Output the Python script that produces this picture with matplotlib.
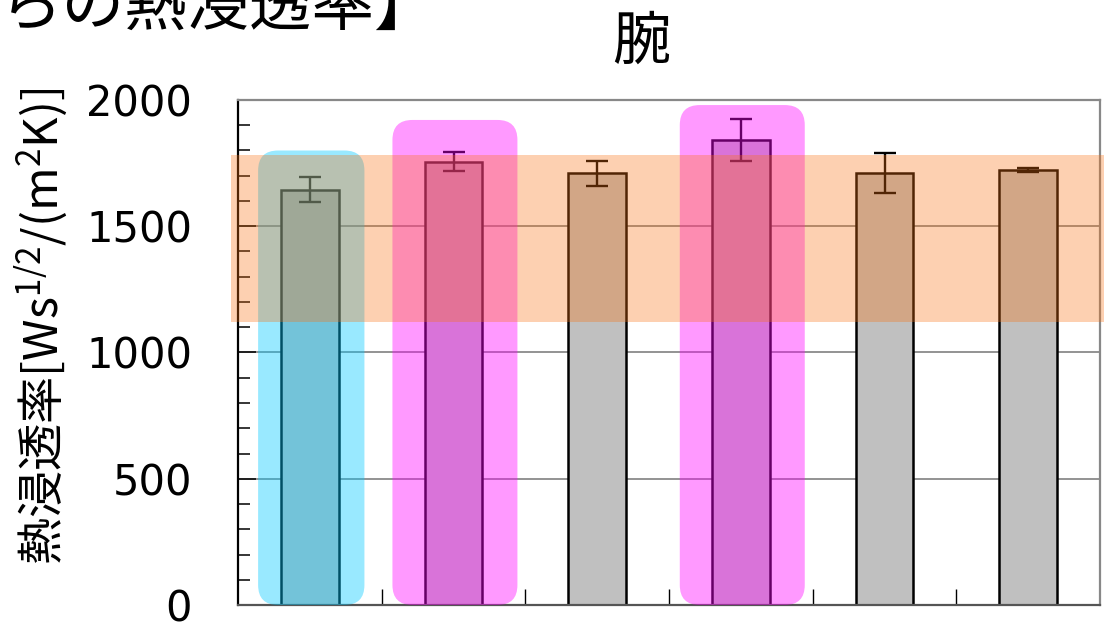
import matplotlib
matplotlib.use("Agg")
import matplotlib.pyplot as plt
from matplotlib.patches import FancyBboxPatch

# bar values (6 groups, no x labels)
values = [1645, 1755, 1710, 1840, 1710, 1722]
errors = [50, 38, 50, 83, 79, 8]

# highlight boxes: (group index, top value, colour)
highlight_idx = [0, 1, 3]
highlight_top = [1800, 1921, 1980]
highlight_col = ["#00C8FF", "#FF00FF", "#FF00FF"]
highlight_w = [0.74, 0.87, 0.87]

# orange reference band
band_lo = 1122
band_hi = 1782

yticks = [0, 500, 1000, 1500, 2000]

JP = ["Noto Sans CJK JP"]

# mathtext has no font fallback, so point it at the CJK font
plt.rcParams["mathtext.fontset"] = "custom"
plt.rcParams["mathtext.rm"] = "Noto Sans CJK JP"
plt.rcParams["mathtext.it"] = "Noto Sans CJK JP"
plt.rcParams["mathtext.bf"] = "Noto Sans CJK JP"

fig = plt.figure(figsize=(11.11, 6.34), dpi=100)
ax = fig.add_axes([238 / 1111, 1 - 605 / 634, 862 / 1111, 505 / 634])

x = list(range(len(values)))
ax.set_xlim(-0.5, len(values) - 0.5)
ax.set_ylim(0, 2000)

# grid lines at the inner major ticks
for v in yticks[1:-1]:
    ax.axhline(v, color="#808080", lw=1.2, zorder=0.5)

ax.bar(x, values, width=0.4, color="#C0C0C0", edgecolor="black", lw=1.8, zorder=2)
ax.errorbar(x, values, yerr=errors, fmt="none", ecolor="black", elinewidth=1.7,
            capsize=8, capthick=1.7, zorder=3)

# rounded highlight boxes (mutation_aspect keeps the corners round on screen)
rx = 20 / 143.67
asp = (20 / 0.2525) / rx
for i, top, c, w in zip(highlight_idx, highlight_top, highlight_col, highlight_w):
    p = FancyBboxPatch((i - w / 2 + 0.01, 0), w, top,
                       boxstyle="round,pad=0,rounding_size=%f" % rx,
                       mutation_aspect=asp, fc=c, ec="none", alpha=0.4, zorder=4)
    ax.add_patch(p)

ax.axhspan(band_lo, band_hi, xmin=-0.008, xmax=1.005, color="#F97212",
           alpha=0.33, lw=0, zorder=5, clip_on=False)

# axes styling
for s in ["top", "right"]:
    ax.spines[s].set_color("#888888")
    ax.spines[s].set_linewidth(1.6)
ax.spines["left"].set_color("black")
ax.spines["left"].set_linewidth(1.6)
ax.spines["bottom"].set_color("#555555")
ax.spines["bottom"].set_linewidth(1.6)

ax.set_yticks(yticks)
ax.set_yticks(range(0, 2001, 100), minor=True)
ax.set_yticklabels([str(v) for v in yticks], family="DejaVu Sans", fontsize=30)
ax.tick_params(axis="y", which="major", direction="in", length=13, width=1.1,
               pad=33, colors="black")
ax.tick_params(axis="y", which="minor", direction="in", length=8.5, width=1.1)
ax.set_xticks([])
ax.set_xticks([i + 0.5 for i in x[:-1]], minor=True)
ax.tick_params(axis="x", which="minor", direction="in", length=11.5, width=1.0,
               labelbottom=False)

ax.set_ylabel("熱浸透率[Ws$^{1/2}$/(m$^2$K)]", family=JP, fontsize=34, va="center")
ax.yaxis.set_label_coords(-0.228, 0.552)

fig.text(641 / 1111, 1 - 42 / 634, "腕", family=JP, fontsize=42, ha="center", va="center")
fig.text(0.0, 1 - 7 / 634, "らの熱浸透率】", family=JP, fontsize=45,
         ha="left", va="center")

fig.savefig("out.png", dpi=100)
